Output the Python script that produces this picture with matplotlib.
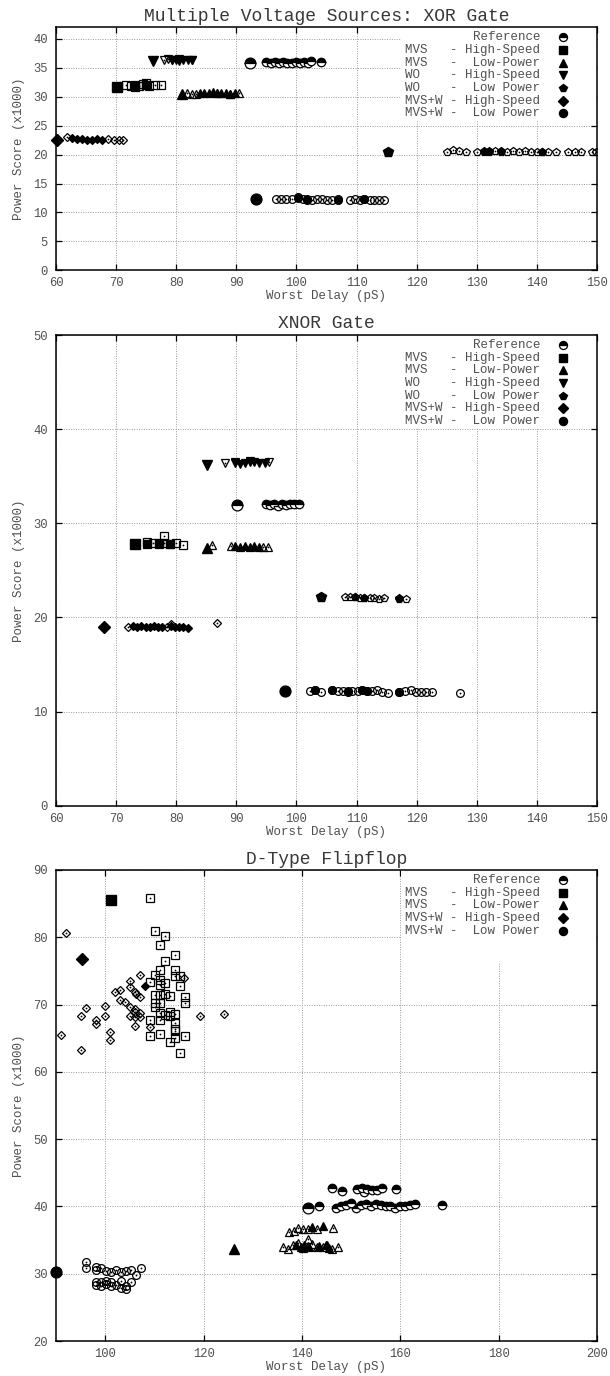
import matplotlib
matplotlib.use("Agg")
import matplotlib.pyplot as plt
from matplotlib.patches import Rectangle

FONT = "Liberation Mono"
TXT = "#505050"

# ---------------------------------------------------------------- XOR gate
xor_ref_best = (92.2, 35.8)
xor_ref_x = [95.0, 95.7, 96.4, 97.1, 97.8, 98.5, 99.2, 99.9, 100.6, 101.3, 102.0, 102.5, 104.1]
xor_ref_y = [36.0, 35.9, 36.0, 35.8, 36.0, 35.9, 35.8, 36.0, 35.9, 36.0, 35.9, 36.1, 36.0]

xor_mvs_hs_best = (70.1, 31.7)
xor_mvs_hs_x = [71.7, 72.5, 73.2, 73.8, 74.5, 74.9, 75.4, 76.4, 77.4]
xor_mvs_hs_y = [32.0, 31.9, 32.1, 31.8, 32.2, 32.4, 31.9, 32.0, 32.0]
xor_mvs_hs_fx = [73.2, 74.9]
xor_mvs_hs_fy = [31.7, 32.0]

xor_mvs_lp_best = (81.0, 30.5)
xor_mvs_lp_x = [81.8, 82.6, 83.3, 86.8, 88.9, 90.4]
xor_mvs_lp_y = [30.6, 30.5, 30.5, 30.6, 30.5, 30.6]
xor_mvs_lp_fx = [83.9, 84.6, 85.4, 86.1, 86.8, 87.5, 88.2, 88.9, 89.7]
xor_mvs_lp_fy = [30.6, 30.7, 30.6, 30.8, 30.6, 30.7, 30.6, 30.5, 30.6]

xor_wo_hs_best = (76.1, 36.1)
xor_wo_hs_x = [78.0, 78.7, 79.3, 80.5, 82.6]
xor_wo_hs_y = [36.4, 36.5, 36.4, 36.5, 36.4]
xor_wo_hs_fx = [79.3, 79.9, 80.5, 81.2, 81.9, 82.6]
xor_wo_hs_fy = [36.3, 36.4, 36.2, 36.4, 36.3, 36.4]

xor_wo_lp_best = (115.2, 20.45)
xor_wo_lp_x = [125.0, 126.1, 127.1, 128.2, 130.0, 131.2, 132.1, 133.1, 134.1, 135.1, 136.0,
               137.0, 138.0, 139.0, 140.0, 140.9, 141.9, 143.2, 145.2, 146.3, 147.3, 149.1, 149.9]
xor_wo_lp_y = [20.5, 20.8, 20.7, 20.5, 20.5, 20.6, 20.5, 20.6, 20.5, 20.5, 20.6,
               20.5, 20.6, 20.5, 20.4, 20.5, 20.4, 20.4, 20.4, 20.5, 20.4, 20.5, 20.4]
xor_wo_lp_fx = [131.2, 132.1, 134.1, 140.9]
xor_wo_lp_fy = [20.5, 20.6, 20.6, 20.5]

xor_mw_hs_best = (60.1, 22.6)
xor_mw_hs_x = [61.9, 68.6, 69.6, 70.4, 71.2]
xor_mw_hs_y = [23.0, 22.7, 22.6, 22.6, 22.6]
xor_mw_hs_fx = [62.7, 63.5, 64.3, 65.1, 66.0, 66.8, 67.6]
xor_mw_hs_fy = [22.8, 22.7, 22.7, 22.6, 22.6, 22.7, 22.6]

xor_mw_lp_best = (93.2, 12.3)
xor_mw_lp_x = [96.6, 97.5, 98.3, 99.2, 100.2, 101.1, 101.8, 102.6, 103.5, 104.3, 105.1,
               105.9, 106.9, 108.9, 109.7, 110.5, 111.3, 112.2, 112.9, 113.8, 114.5]
xor_mw_lp_y = [12.3, 12.3, 12.3, 12.3, 12.6, 12.3, 12.3, 12.2, 12.3, 12.3, 12.2,
               12.2, 12.3, 12.2, 12.3, 12.2, 12.4, 12.2, 12.2, 12.2, 12.2]
xor_mw_lp_fx = [100.2, 101.8, 106.9, 111.3]
xor_mw_lp_fy = [12.5, 12.2, 12.2, 12.3]

# --------------------------------------------------------------- XNOR gate
xnor_ref_best = (90.1, 31.9)
xnor_ref_x = [95.0, 95.6, 96.3, 96.9, 97.6, 98.2, 98.9, 99.6, 100.5]
xnor_ref_y = [32.0, 31.9, 32.0, 31.8, 32.0, 31.9, 32.0, 32.1, 32.1]

xnor_mvs_hs_best = (73.2, 27.85)
xnor_mvs_hs_x = [75.1, 76.1, 77.1, 78.0, 78.0, 79.0, 80.0, 81.2]
xnor_mvs_hs_y = [28.0, 27.9, 27.8, 28.6, 27.9, 27.8, 27.9, 27.7]
xnor_mvs_hs_fx = [75.1, 77.1, 79.0]
xnor_mvs_hs_fy = [27.8, 27.9, 27.8]

xnor_mvs_lp_best = (85.1, 27.4)
xnor_mvs_lp_x = [86.0, 89.1, 94.4, 95.3]
xnor_mvs_lp_y = [27.7, 27.6, 27.5, 27.5]
xnor_mvs_lp_fx = [89.8, 90.6, 91.4, 92.2, 93.0, 93.8]
xnor_mvs_lp_fy = [27.6, 27.5, 27.6, 27.5, 27.6, 27.5]

xnor_wo_hs_best = (85.1, 36.2)
xnor_wo_hs_x = [88.1, 89.8, 92.2, 95.5]
xnor_wo_hs_y = [36.4, 36.5, 36.6, 36.5]
xnor_wo_hs_fx = [89.8, 90.6, 91.4, 92.2, 93.0, 93.8, 94.7]
xnor_wo_hs_fy = [36.4, 36.3, 36.4, 36.5, 36.5, 36.4, 36.4]

xnor_wo_lp_best = (104.1, 22.2)
xnor_wo_lp_x = [108.0, 108.9, 109.7, 110.5, 111.3, 112.2, 112.9, 113.8, 114.5, 117.1, 118.3]
xnor_wo_lp_y = [22.2, 22.2, 22.2, 22.1, 22.1, 22.1, 22.1, 22.0, 22.1, 22.1, 22.0]
xnor_wo_lp_fx = [109.7, 111.3, 117.1]
xnor_wo_lp_fy = [22.2, 22.1, 22.0]

xnor_mw_hs_best = (68.05, 19.0)
xnor_mw_hs_x = [72.0, 78.4, 79.1, 86.8]
xnor_mw_hs_y = [19.0, 19.0, 19.3, 19.4]
xnor_mw_hs_fx = [72.8, 73.5, 74.2, 74.9, 75.6, 76.3, 77.0, 77.7, 79.1, 79.8, 80.5, 81.2, 81.9]
xnor_mw_hs_fy = [19.1, 19.0, 19.1, 19.0, 19.0, 19.1, 19.0, 19.0, 19.1, 19.0, 19.0, 19.0, 18.9]

xnor_mw_lp_best = (98.1, 12.2)
xnor_mw_lp_x = [102.2, 103.1, 104.1, 105.9, 106.9, 107.7, 108.6, 109.3, 110.2, 110.9, 111.8, 112.6,
                113.4, 114.3, 115.2, 117.0, 118.0, 119.0, 119.9, 120.8, 121.6, 122.5, 127.25]
xnor_mw_lp_y = [12.2, 12.3, 12.1, 12.3, 12.2, 12.2, 12.1, 12.2, 12.2, 12.3, 12.2, 12.2,
                12.3, 12.1, 12.0, 12.1, 12.2, 12.3, 12.1, 12.1, 12.1, 12.1, 12.0]
xnor_mw_lp_fx = [103.1, 105.9, 108.6, 110.9, 111.8, 117.0]
xnor_mw_lp_fy = [12.3, 12.3, 12.2, 12.3, 12.2, 12.1]

# --------------------------------------------------------- D-type flipflop
dff_ref_best = (141.2, 39.7)
dff_ref_x = [146.2, 148.2, 151.2, 152.2, 152.7, 153.2, 154.2, 155.2, 156.2, 159.2,
             143.5, 146.9, 148.0, 149.0, 150.0, 151.0, 152.0, 153.0, 154.0, 155.0,
             156.0, 157.0, 158.0, 159.0, 160.0, 161.0, 162.0, 163.0, 168.4]
dff_ref_y = [42.8, 42.3, 42.6, 42.7, 42.1, 42.6, 42.4, 42.5, 42.7, 42.6,
             40.1, 39.8, 40.1, 40.2, 40.5, 39.7, 40.2, 40.3, 40.0, 40.3,
             40.2, 40.1, 40.0, 39.8, 40.1, 40.0, 40.2, 40.4, 40.2]

dff_mvs_hs_best = (101.1, 85.6)
dff_mvs_hs_x = [109.1, 110.1, 111.1, 112.2, 112.2, 114.2, 110.1, 111.1, 111.1, 111.1,
                112.2, 114.2, 114.2, 115.3, 115.3, 109.1, 110.1, 111.1, 112.2, 113.2,
                110.1, 110.1, 111.1, 111.1, 111.1, 113.2, 113.2, 114.2, 114.2, 114.2,
                114.2, 116.2, 116.2, 116.2, 115.3, 113.2, 109.1, 109.1, 111.1, 114.2, 112.2]
dff_mvs_hs_y = [85.9, 81.0, 78.8, 80.2, 76.5, 77.3, 74.4, 75.2, 73.7, 72.9,
                73.2, 75.1, 74.2, 74.2, 72.8, 73.4, 71.4, 71.4, 71.5, 71.3,
                70.3, 69.6, 70.2, 68.7, 67.7, 68.9, 68.3, 68.6, 67.3, 66.4,
                65.0, 71.1, 70.2, 65.4, 62.8, 64.4, 67.7, 65.4, 65.6, 66.0, 68.4]

dff_mvs_lp_best = (126.2, 33.7)
dff_mvs_lp_x = [137.3, 138.3, 139.2, 140.2, 141.2, 143.0, 146.4, 141.2,
                136.2, 137.2, 138.2, 139.2, 140.2, 141.2, 142.1, 143.1, 144.2, 145.1, 146.2, 147.3]
dff_mvs_lp_y = [36.2, 36.4, 36.8, 36.7, 36.6, 36.7, 36.8, 35.2,
                34.0, 33.6, 34.2, 34.5, 33.8, 34.1, 34.4, 33.9, 34.0, 34.3, 33.7, 34.0]
dff_mvs_lp_fx = [142.1, 144.2, 138.9, 139.8, 140.4, 141.5, 143.4, 144.8, 145.6]
dff_mvs_lp_fy = [37.0, 37.1, 34.3, 33.9, 34.2, 34.0, 34.1, 34.2, 33.8]

dff_mw_hs_best = (95.2, 76.8)
dff_mw_hs_x = [92.0, 91.0, 95.0, 96.1, 95.0, 98.1, 98.1, 100.0, 100.0, 101.0, 101.0, 102.0,
               103.1, 103.1, 104.1, 105.1, 105.1, 106.1, 106.2, 107.1, 105.1, 106.0, 106.1,
               107.1, 105.1, 106.1, 107.1, 106.1, 107.1, 109.1, 116.1, 119.3, 124.2]
dff_mw_hs_y = [80.6, 65.5, 68.3, 69.5, 63.3, 67.7, 67.1, 69.8, 68.3, 65.9, 64.8, 71.8,
               72.2, 70.7, 70.4, 73.5, 72.6, 71.9, 71.5, 71.1, 69.7, 69.3, 68.9,
               68.7, 68.3, 68.2, 68.2, 66.8, 74.4, 66.6, 73.9, 68.3, 68.6]
dff_mw_hs_fx = [108.1]
dff_mw_hs_fy = [72.8]

dff_mw_lp_best = (90.0, 30.3)
dff_mw_lp_x = [96.1, 96.1, 98.1, 98.1, 99.2, 100.1, 101.2, 102.2, 103.2, 104.2, 105.2, 106.2, 107.3,
               98.1, 99.2, 100.1, 101.2, 102.2, 103.2, 104.2, 105.2, 98.1, 99.2, 101.2, 103.2, 104.2, 100.1]
dff_mw_lp_y = [31.8, 30.8, 31.0, 30.5, 30.8, 30.4, 30.3, 30.5, 30.3, 30.4, 30.5, 29.8, 30.8,
               28.8, 28.8, 28.9, 28.8, 28.3, 28.9, 28.2, 28.7, 28.3, 28.1, 28.2, 27.9, 27.8, 28.5]

LABELS = ["Reference", "MVS   - High-Speed", "MVS   -  Low-Power", "WO    - High-Speed",
          "WO    -  Low Power", "MVS+W - High-Speed", "MVS+W -  Low Power"]
MARKERS = ["ref", "s", "^", "v", "p", "D", "o"]

FIG_W, FIG_H = 610, 1376
AX_LEFT, AX_RIGHT = 56, 597
# (top, bottom) pixel rows of each panel
PANELS = [(27.3, 270.3), (335.0, 805.7), (870.0, 1341.0)]

SMALL, BIG, KEY = 5.6, 7.8, 5.8

fig = plt.figure(figsize=(FIG_W / 100, FIG_H / 100), dpi=100)


def make_axes(top, bottom):
    ax = fig.add_axes([AX_LEFT / FIG_W, 1 - bottom / FIG_H,
                       (AX_RIGHT - AX_LEFT) / FIG_W, (bottom - top) / FIG_H])
    return ax


def size_for(marker, ms):
    return ms * 0.8 if marker == "D" else ms


REF_KW = dict(marker="o", fillstyle="top", markerfacecolor="black",
              markerfacecoloralt="white", markeredgecolor="black", markeredgewidth=0.9)


def draw(ax, marker, best, px, py, fx=None, fy=None):
    if marker == "ref":
        ax.plot(px, py, ls="none", ms=SMALL + 0.5, zorder=3, **REF_KW)
        ax.plot([best[0]], [best[1]], ls="none", ms=BIG, zorder=3, clip_on=False, **REF_KW)
        return
    ax.plot(px, py, ls="none", marker=marker, ms=size_for(marker, SMALL), mfc="none",
            mec="black", mew=0.9, zorder=3)
    ax.plot(px, py, ls="none", marker="o", ms=1.3, mfc="black", mec="black", mew=0, zorder=3)
    if fx:
        ax.plot(fx, fy, ls="none", marker=marker, ms=size_for(marker, SMALL), mfc="black",
                mec="black", mew=0.9, zorder=3)
    ax.plot([best[0]], [best[1]], ls="none", marker=marker, ms=size_for(marker, BIG),
            mfc="black", mec="black", zorder=4, clip_on=False)


def style(ax, title, xlim, ylim, xticks, yticks, top, bottom, entries):
    h = bottom - top
    w = AX_RIGHT - AX_LEFT
    ax.set_xlim(*xlim)
    ax.set_ylim(*ylim)
    ax.set_xticks(xticks)
    ax.set_xticklabels([str(v) for v in xticks])
    ax.set_yticks(yticks)
    for v in xticks:
        ax.axvline(v, color="#9a9a9a", lw=0.7, ls=(0, (1, 1.5)), zorder=0.6)
    for v in yticks:
        ax.axhline(v, color="#9a9a9a", lw=0.7, ls=(0, (1, 1.5)), zorder=0.6)
    ax.tick_params(direction="in", length=4, width=0.9, top=True, right=True,
                   labelsize=8.7, labelcolor=TXT, pad=5)
    ax.tick_params(axis="y", pad=6)
    for lab in ax.get_xticklabels() + ax.get_yticklabels():
        lab.set_family(FONT)
    for sp in ax.spines.values():
        sp.set_linewidth(1.1)
        sp.set_zorder(5)
    ax.set_title(title, fontsize=13, family=FONT, color="#383838", pad=0,
                 y=1 + 11 / h, va="center")
    ax.set_xlabel("Worst Delay (pS)", fontsize=9, family=FONT, color=TXT)
    ax.xaxis.set_label_coords(0.5, -26 / h)
    ax.xaxis.label.set_va("center")
    ax.set_ylabel("Power Score (x1000)", fontsize=9, family=FONT, color=TXT)
    ax.yaxis.set_label_coords((19.5 - AX_LEFT) / w, 0.5)
    ax.yaxis.label.set_va("center")

    # opaque key box in the upper right corner
    box_left = (401 - AX_LEFT) / w
    box_h = 93 / h
    ax.add_patch(Rectangle((box_left, 1 - box_h), 1 - box_left, box_h, transform=ax.transAxes,
                           facecolor="white", edgecolor="none", zorder=2))
    x_text = (540 - AX_LEFT) / w
    x_mark = (563 - AX_LEFT) / w
    for i, idx in enumerate(entries):
        yy = 1 - (10 + i * 12.65) / h
        ax.text(x_text, yy, LABELS[idx], transform=ax.transAxes, ha="right", va="center",
                fontsize=9, family=FONT, color=TXT, zorder=6)
        m = MARKERS[idx]
        if m == "ref":
            ax.plot([x_mark], [yy], transform=ax.transAxes, ls="none", ms=KEY,
                    zorder=6, clip_on=False, **REF_KW)
        else:
            ax.plot([x_mark], [yy], transform=ax.transAxes, ls="none", marker=m,
                    ms=size_for(m, KEY), mfc="black", mec="black", zorder=6, clip_on=False)


# ---- XOR
t, b = PANELS[0]
ax1 = make_axes(t, b)
draw(ax1, "ref", xor_ref_best, xor_ref_x, xor_ref_y)
draw(ax1, "s", xor_mvs_hs_best, xor_mvs_hs_x, xor_mvs_hs_y, xor_mvs_hs_fx, xor_mvs_hs_fy)
draw(ax1, "^", xor_mvs_lp_best, xor_mvs_lp_x, xor_mvs_lp_y, xor_mvs_lp_fx, xor_mvs_lp_fy)
draw(ax1, "v", xor_wo_hs_best, xor_wo_hs_x, xor_wo_hs_y, xor_wo_hs_fx, xor_wo_hs_fy)
draw(ax1, "p", xor_wo_lp_best, xor_wo_lp_x, xor_wo_lp_y, xor_wo_lp_fx, xor_wo_lp_fy)
draw(ax1, "D", xor_mw_hs_best, xor_mw_hs_x, xor_mw_hs_y, xor_mw_hs_fx, xor_mw_hs_fy)
draw(ax1, "o", xor_mw_lp_best, xor_mw_lp_x, xor_mw_lp_y, xor_mw_lp_fx, xor_mw_lp_fy)
xt = list(range(60, 151, 10))
style(ax1, "Multiple Voltage Sources: XOR Gate", (60, 150), (0, 42), xt,
      list(range(0, 41, 5)), t, b, [0, 1, 2, 3, 4, 5, 6])

# ---- XNOR
t, b = PANELS[1]
ax2 = make_axes(t, b)
draw(ax2, "ref", xnor_ref_best, xnor_ref_x, xnor_ref_y)
draw(ax2, "s", xnor_mvs_hs_best, xnor_mvs_hs_x, xnor_mvs_hs_y, xnor_mvs_hs_fx, xnor_mvs_hs_fy)
draw(ax2, "^", xnor_mvs_lp_best, xnor_mvs_lp_x, xnor_mvs_lp_y, xnor_mvs_lp_fx, xnor_mvs_lp_fy)
draw(ax2, "v", xnor_wo_hs_best, xnor_wo_hs_x, xnor_wo_hs_y, xnor_wo_hs_fx, xnor_wo_hs_fy)
draw(ax2, "p", xnor_wo_lp_best, xnor_wo_lp_x, xnor_wo_lp_y, xnor_wo_lp_fx, xnor_wo_lp_fy)
draw(ax2, "D", xnor_mw_hs_best, xnor_mw_hs_x, xnor_mw_hs_y, xnor_mw_hs_fx, xnor_mw_hs_fy)
draw(ax2, "o", xnor_mw_lp_best, xnor_mw_lp_x, xnor_mw_lp_y, xnor_mw_lp_fx, xnor_mw_lp_fy)
style(ax2, "XNOR Gate", (60, 150), (0, 50), xt, list(range(0, 51, 10)),
      t, b, [0, 1, 2, 3, 4, 5, 6])

# ---- D-type flipflop
t, b = PANELS[2]
ax3 = make_axes(t, b)
draw(ax3, "ref", dff_ref_best, dff_ref_x, dff_ref_y)
draw(ax3, "s", dff_mvs_hs_best, dff_mvs_hs_x, dff_mvs_hs_y)
draw(ax3, "^", dff_mvs_lp_best, dff_mvs_lp_x, dff_mvs_lp_y, dff_mvs_lp_fx, dff_mvs_lp_fy)
draw(ax3, "D", dff_mw_hs_best, dff_mw_hs_x, dff_mw_hs_y, dff_mw_hs_fx, dff_mw_hs_fy)
draw(ax3, "o", dff_mw_lp_best, dff_mw_lp_x, dff_mw_lp_y)
xt3 = list(range(100, 201, 20))
style(ax3, "D-Type Flipflop", (90, 200), (20, 90), xt3, list(range(20, 91, 10)),
      t, b, [0, 1, 2, 5, 6])

fig.savefig("out.png", dpi=100)
